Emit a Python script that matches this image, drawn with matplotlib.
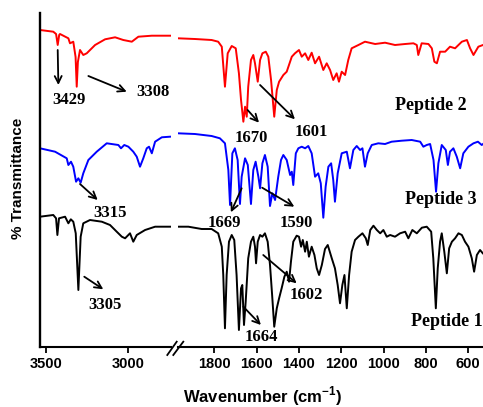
import matplotlib
matplotlib.use("Agg")
import matplotlib.pyplot as plt
from matplotlib.lines import Line2D

plt.rcParams['mathtext.fontset'] = 'custom'
plt.rcParams['mathtext.rm'] = 'Liberation Sans'
plt.rcParams['mathtext.bf'] = 'Liberation Sans:bold'

# FTIR spectra, offset vertically (arbitrary units), two wavenumber windows
# Peptide 2 (red)
red_hi_wn = [3535, 3454, 3437, 3427, 3418, 3413, 3362, 3352, 3332, 3318, 3311, 3304, 3291, 3271, 3250,
             3199, 3138, 3077, 3027, 2975, 2935, 2853, 2742]
red_hi_t = [317, 315.3, 313, 302, 312, 313, 308.7, 303.7, 305.3, 290, 260.3, 285, 297, 292, 293.7,
            302, 307.7, 309.7, 307, 305.3, 310.3, 311.3, 311.3]
red_lo_wn = [1972, 1892, 1813, 1782, 1765, 1750, 1737, 1718, 1699, 1684, 1674, 1663, 1655, 1647, 1640,
             1627, 1616, 1608, 1595, 1584, 1573, 1557, 1545, 1532, 1517, 1505, 1494, 1474, 1458, 1434,
             1419, 1400, 1387, 1371, 1356, 1340, 1324, 1305, 1285, 1269, 1253, 1238, 1222, 1211, 1198,
             1182, 1167, 1151, 1119, 1088, 1040, 993, 946, 898, 859, 843, 836, 820, 788, 772,
             760, 748, 733, 709, 686, 662, 630, 606, 591, 575, 552, 530]
red_lo_t = [308.7, 308, 307, 305.3, 300.3, 260.3, 293.7, 301, 298.7, 273.7, 247, 225.3, 240.3, 230.3, 260.3,
            287, 292, 283.7, 265.3, 287, 293.7, 295.3, 290.3, 267, 230.3, 257, 265.3, 272, 275.3, 290.3,
            293.7, 297, 290.3, 293.7, 287, 294.3, 283.7, 290.3, 277, 283.7, 277, 267, 273.7, 265.3, 275.3,
            272, 287, 298.7, 302, 305.3, 303, 304.3, 302, 303, 303.7, 302, 292, 303.7, 303, 298.7,
            285.3, 283.7, 295.3, 295.3, 300.3, 298.7, 305.3, 307, 298.7, 292, 300.3, 302]

# Peptide 3 (blue)
blue_hi_wn = [3535, 3443, 3372, 3362, 3346, 3332, 3315, 3301, 3287, 3271, 3240, 3189, 3128, 3057, 3041,
              3021, 2996, 2966, 2945, 2925, 2905, 2884, 2870, 2853, 2833, 2792, 2742]
blue_hi_t = [198.7, 195.3, 188.7, 182, 185.3, 180.3, 165.3, 168.7, 164.3, 173.7, 187, 195.3, 203.7, 202, 198.7,
             202, 200.3, 195.3, 190.3, 180.3, 188.7, 198.7, 200.3, 193.7, 205.3, 209.7, 210.3]
blue_lo_wn = [1972, 1892, 1813, 1774, 1750, 1734, 1726, 1715, 1703, 1690, 1679, 1671, 1655, 1642, 1627,
              1616, 1605, 1592, 1584, 1573, 1561, 1548, 1537, 1526, 1513, 1498, 1485, 1474, 1458, 1442,
              1434, 1427, 1415, 1403, 1387, 1371, 1356, 1340, 1324, 1309, 1297, 1285, 1274, 1261, 1248,
              1238, 1230, 1217, 1198, 1174, 1159, 1143, 1127, 1111, 1100, 1088, 1075, 1056, 1025, 993,
              962, 914, 867, 827, 812, 796, 780, 764, 752, 741, 725, 706, 696, 686, 670,
              654, 638, 623, 599, 575, 554, 536, 530]
blue_lo_t = [213.7, 213, 211, 208.7, 203.7, 177, 142, 193.7, 198.7, 187, 143, 170.3, 188.7, 182, 143,
             177, 185.3, 170.3, 158.7, 183.7, 192, 180.3, 141, 153.7, 147, 170.3, 187, 192, 187, 172,
             175.3, 162, 193.7, 198.7, 200.3, 198.7, 201, 193.7, 170.3, 173.7, 163.7, 129.3, 160.3, 180.3, 183.7,
             167, 145.3, 173.7, 193.7, 195.3, 178.7, 197, 201, 197, 198.7, 180.3, 193.7, 202, 203.7, 203,
             205.3, 206.3, 207, 205.3, 200.3, 202, 203, 187, 155.3, 183.7, 202, 197, 182, 195.3, 198.7,
             190.3, 178.7, 193.7, 200.3, 203.7, 205.3, 202, 203]

# Peptide 1 (black)
black_hi_wn = [3535, 3454, 3437, 3429, 3419, 3382, 3362, 3347, 3332, 3317, 3301, 3287, 3271, 3230, 3158,
               3108, 3067, 3036, 3016, 2986, 2966, 2945, 2894, 2833, 2742]
black_hi_t = [130.3, 132, 128.7, 112, 128.7, 130.3, 123.7, 127.7, 125.3, 113.7, 57, 110.3, 123.7, 127, 125.3,
              122, 115.3, 110.3, 108.7, 113.7, 105.3, 112, 117, 120.3, 120.3]
black_lo_wn = [1972, 1923, 1860, 1813, 1782, 1765, 1758, 1750, 1742, 1731, 1718, 1706, 1695, 1684, 1674,
               1668, 1660, 1652, 1640, 1627, 1616, 1608, 1603, 1595, 1584, 1573, 1561, 1548, 1537, 1527,
               1517, 1505, 1494, 1482, 1469, 1458, 1447, 1438, 1427, 1411, 1400, 1390, 1382, 1371, 1363,
               1353, 1340, 1327, 1316, 1305, 1292, 1277, 1264, 1245, 1230, 1217, 1206, 1195, 1185, 1174,
               1163, 1151, 1135, 1119, 1100, 1084, 1075, 1063, 1048, 1032, 1016, 1001, 985, 969, 946,
               922, 898, 883, 864, 843, 819, 796, 775, 765, 753, 744, 733, 725, 713, 701,
               690, 677, 662, 646, 630, 615, 599, 583, 572, 559, 544, 531]
black_lo_t = [120.3, 120.3, 118, 118, 113.7, 100.3, 72, 18.7, 72, 105.3, 112, 107, 72, 17, 58.7,
              62, 22, 45.3, 88.7, 105.3, 110.3, 100.3, 83.7, 105.3, 112, 110.3, 113.7, 105.3, 82, 52,
              20.3, 38.7, 48.7, 58.7, 70.3, 75.3, 65.3, 85.3, 105.3, 111.3, 110.3, 100.3, 107, 95.3, 105.3,
              90.3, 100.3, 92, 78.7, 72, 82, 98, 102, 88.7, 78.7, 62, 43.7, 62, 72, 38.7,
              72, 95.3, 107, 110.3, 113.7, 108.7, 102, 117, 121.3, 117, 113.7, 117, 110.3, 112, 110.3,
              113.7, 115.3, 108.7, 117, 113.7, 119.3, 120.3, 115.3, 88.7, 38.7, 78.7, 105.3, 113.7, 95.3, 73.7,
              98.7, 105.3, 108.7, 113.7, 112, 105.3, 100.3, 88.7, 75.3, 92, 97, 93.7]

hi_ticks = [3500, 3000]
lo_ticks = [1800, 1600, 1400, 1200, 1000, 800, 600]

fig = plt.figure(figsize=(4.83, 4.07), dpi=100)
ax1 = fig.add_axes([40 / 483, 60 / 407, 131 / 483, 334 / 407])
ax2 = fig.add_axes([178 / 483, 60 / 407, 305 / 483, 334 / 407])

lw = 1.4
ax1.plot(red_hi_wn, red_hi_t, color='#ff0000', lw=lw)
ax1.plot(blue_hi_wn, blue_hi_t, color='#0000ff', lw=lw)
ax1.plot(black_hi_wn, black_hi_t, color='black', lw=lw)
ax2.plot(red_lo_wn, red_lo_t, color='#ff0000', lw=lw)
ax2.plot(blue_lo_wn, blue_lo_t, color='#0000ff', lw=lw)
ax2.plot(black_lo_wn, black_lo_t, color='black', lw=lw)

ax1.set_xlim(3535, 2736)
ax2.set_xlim(1972, 530)
for ax in (ax1, ax2):
    ax.set_ylim(0, 334)
    ax.set_yticks([])
    ax.spines['top'].set_visible(False)
    ax.spines['right'].set_visible(False)
    ax.spines['bottom'].set_linewidth(1.5)
    ax.tick_params(axis='x', direction='out', length=4, width=1.3, pad=3)
ax1.spines['left'].set_linewidth(1.7)
ax2.spines['left'].set_visible(False)
ax1.set_xticks(hi_ticks)
ax2.set_xticks(lo_ticks)
for ax in (ax1, ax2):
    for lab in ax.get_xticklabels():
        lab.set_fontfamily('Liberation Sans')
        lab.set_fontweight('bold')
        lab.set_fontsize(10.5)

# axis break marks
for x0, x1 in [(167.3, 176.7), (173.3, 183.3)]:
    fig.add_artist(Line2D([x0 / 483, x1 / 483], [(407 - 355) / 407, (407 - 341.7) / 407],
                          color='black', lw=1.3))

fig.text(18 / 483, 1 - 178 / 407, '% Transmittance', rotation=90, ha='center', va='center',
         fontfamily='Liberation Sans', fontweight='bold', fontsize=11)
fig.text(263 / 483, 1 - 396 / 407, r'Wavenumber (cm$^{\mathbf{-1}}$)', ha='center', va='center',
         fontfamily='Liberation Sans', fontweight='bold', fontsize=12)

serif = dict(fontfamily='Liberation Serif', fontweight='bold', ha='center', va='center', clip_on=False)
arrow = dict(arrowstyle='->, head_length=0.5, head_width=0.25', color='black', lw=1.3,
             shrinkA=0, shrinkB=0)

# peak labels: (axes, label, label position, arrow start, arrow end)
peaks = [
    (ax1, '3429', (3358, 247), (3427, 297), (3423, 262)),
    (ax1, '3308', (2846, 255.3), (3240, 271), (3006, 255.3)),
    (ax1, '3315', (3108, 134.3), (3291, 163), (3183, 147)),
    (ax1, '3305', (3138, 42), (3265, 70.3), (3149, 57.7)),
    (ax2, '1670', (1627, 208.7), (1643, 237), (1589, 224.3)),
    (ax2, '1601', (1343, 215.3), (1584, 262), (1419, 227.7)),
    (ax2, '1669', (1755, 123.7), (1671, 158.7), (1722, 134.7)),
    (ax2, '1590', (1414, 123.7), (1574, 159.3), (1422, 140.3)),
    (ax2, '1602', (1367, 52), (1569, 92), (1411, 63.7)),
    (ax2, '1664', (1580, 10.3), (1663, 40.3), (1580, 22)),
]
for ax, lab, pos, start, end in peaks:
    ax.text(pos[0], pos[1], lab, fontsize=12, **serif)
    ax.annotate('', xy=end, xytext=start, arrowprops=arrow, annotation_clip=False)

ax2.text(776, 242, 'Peptide 2', fontsize=13, **serif)
ax2.text(729, 147, 'Peptide 3', fontsize=13, **serif)
ax2.text(700, 25.3, 'Peptide 1', fontsize=13, **serif)

fig.savefig('out.png', dpi=100)
